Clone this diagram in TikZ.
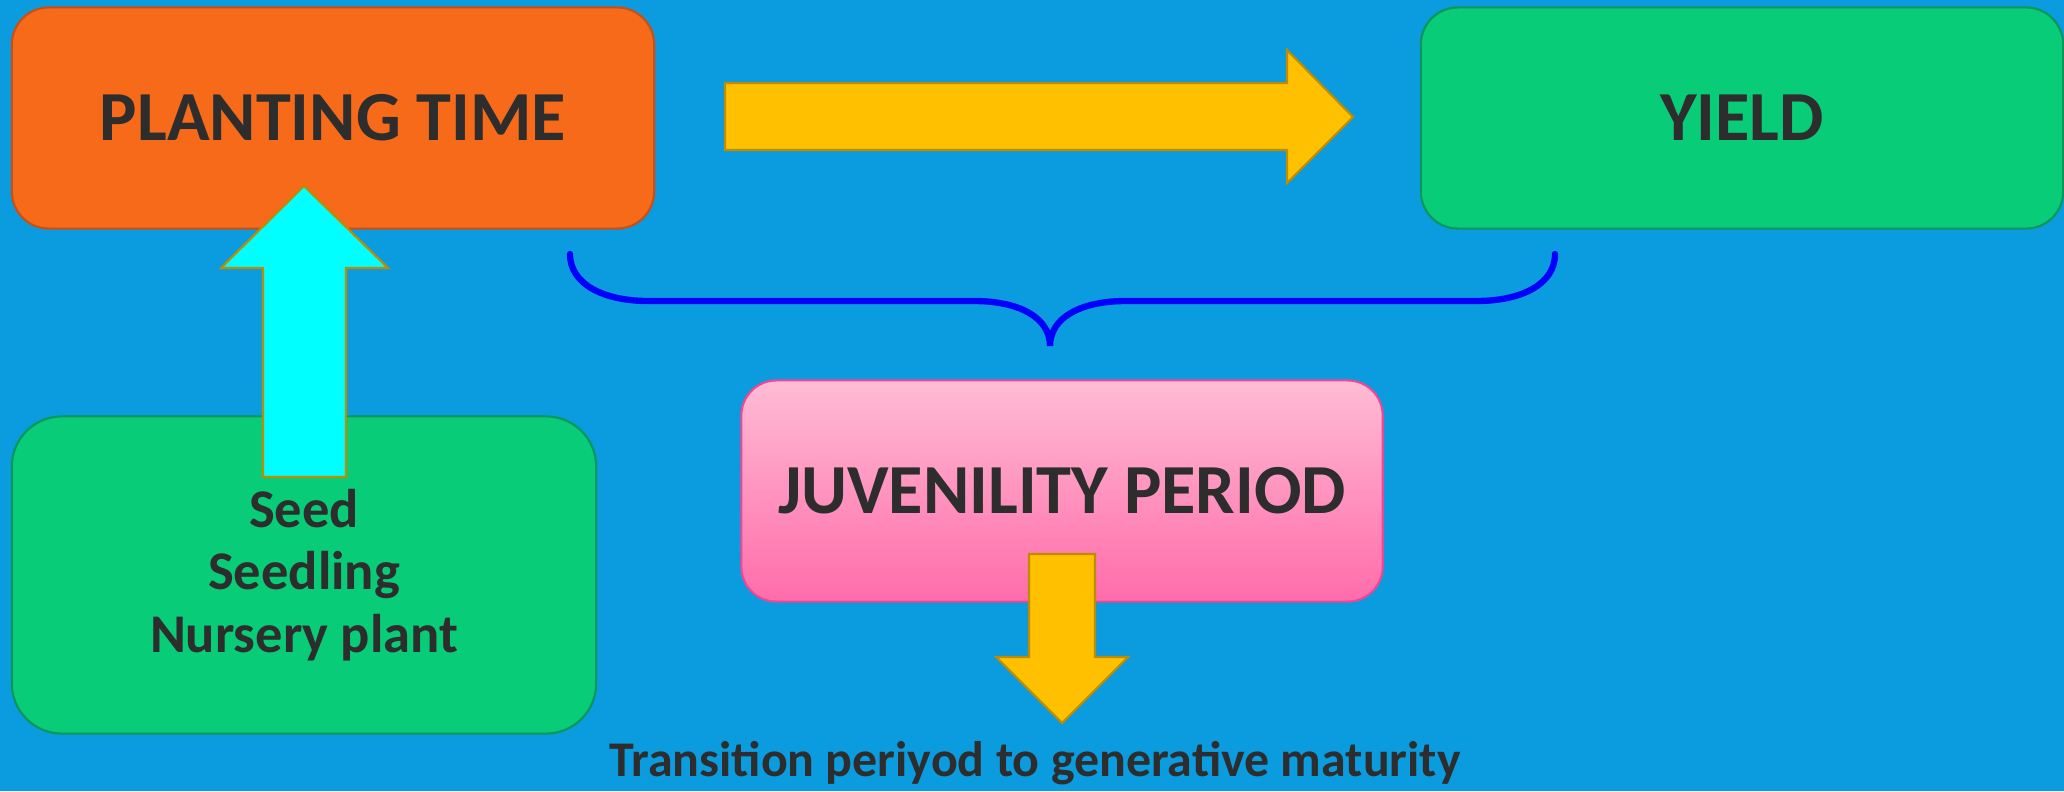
\documentclass[tikz,border=0pt]{standalone}
\usepackage{fontspec}
\setmainfont{Carlito}
\definecolor{bgblue}{RGB}{11,155,223}
\definecolor{ink}{RGB}{45,45,45}
\definecolor{orangebox}{RGB}{246,106,26}
\definecolor{orangeline}{RGB}{200,80,20}
\definecolor{greenbox}{RGB}{8,204,120}
\definecolor{greenline}{RGB}{10,150,90}
\definecolor{pinktop}{RGB}{255,188,212}
\definecolor{pinkbot}{RGB}{255,108,170}
\definecolor{pinkline}{RGB}{240,70,150}
\definecolor{arrowyellow}{RGB}{255,192,0}
\definecolor{arrowcyan}{RGB}{0,255,255}
\definecolor{gold}{RGB}{190,140,0}
\definecolor{bracecol}{RGB}{0,0,255}
\begin{document}
\begin{tikzpicture}[x=0.01cm, y=-0.01cm,
    box/.style={draw, line width=0.6pt, text=ink, align=center,
        font=\bfseries\fontsize{20}{24}\selectfont},
    blockarrow/.style={draw=gold, line width=0.6pt, line join=miter}]
    % background
    \fill[bgblue] (0,0) rectangle (2064,791);
    \useasboundingbox (0,0) rectangle (2064,791);

    % boxes
    \node[box, fill=orangebox, draw=orangeline, rounded corners=0.37cm,
        minimum width=6.42cm, minimum height=2.21cm] (plant) at (333,118) {PLANTING TIME};
    \node[box, fill=greenbox, draw=greenline, rounded corners=0.37cm,
        minimum width=6.42cm, minimum height=2.21cm] (yield) at (1742,118) {YIELD};
    \node[box, fill=greenbox, draw=greenline, rounded corners=0.5cm,
        minimum width=5.84cm, minimum height=3.17cm,
        font=\bfseries\fontsize{15.5}{17.7}\selectfont] (source) at (304,575)
        {Seed\\Seedling\\Nursery plant};
    \node[box, top color=pinktop, bottom color=pinkbot, draw=pinkline, rounded corners=0.35cm,
        minimum width=6.41cm, minimum height=2.21cm] (juv) at (1062,491) {JUVENILITY PERIOD};
    \node[text=ink, font=\bfseries\fontsize{14.2}{17}\selectfont] (trans) at (1035,763)
        {Transition periyod to generative maturity};

    % planting time -> yield
    \filldraw[blockarrow, fill=arrowyellow] (725,83) -- (1287,83) -- (1287,50) -- (1353,117)
        -- (1287,183) -- (1287,150) -- (725,150) -- cycle;

    % seed material -> planting time
    \filldraw[blockarrow, fill=arrowcyan] (263,477) -- (263,268) -- (221,268) -- (304,186)
        -- (388,268) -- (346,268) -- (346,477) -- cycle;

    % juvenility -> transition
    \filldraw[blockarrow, fill=arrowyellow] (1029,554) -- (1095,554) -- (1095,657) -- (1128,657)
        -- (1062,723) -- (996,657) -- (1029,657) -- cycle;

    % brace over the juvenility period
    \draw[bracecol, line width=1.8pt, line cap=round]
        (570,254) .. controls (570,285) and (605,301) .. (648,301) -- (974,301)
        .. controls (1020,301) and (1050,318) .. (1050,346)
        .. controls (1050,318) and (1080,301) .. (1126,301) -- (1477,301)
        .. controls (1520,301) and (1555,285) .. (1555,254);
\end{tikzpicture}
\end{document}
